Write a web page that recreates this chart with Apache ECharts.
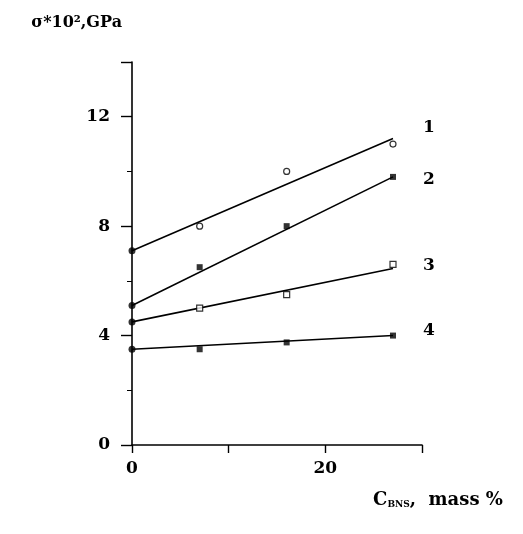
<!DOCTYPE html>
<html>
<head>
<meta charset="utf-8">
<script src="https://cdn.jsdelivr.net/npm/echarts@6/dist/echarts.min.js"></script>
<style>
  html, body { margin: 0; padding: 0; background: #fff; }
  #chart { width: 523px; height: 534px; }
</style>
</head>
<body>
<div id="chart"></div>
<script>
// measured points, x = C_BNS (mass %)
const xValues = [0, 7, 16, 27]
const s1 = [7.1, 8.0, 10.0, 11.0]
const s2 = [5.1, 6.5, 8.0, 9.8]
const s3 = [4.5, 5.0, 5.5, 6.6]
const s4 = [3.5, 3.5, 3.75, 4.0]
// fitted straight lines (start / end)
const fitX = [0, 27]
const fit1 = [7.1, 11.2]
const fit2 = [5.1, 9.8]
const fit3 = [4.5, 6.45]
const fit4 = [3.5, 4.0]
const curveNames = ['1', '2', '3', '4']
const xLabels = ['0', '20']
const yLabels = ['0', '4', '8', '12']

const font = 'DejaVu Serif'
const chart = echarts.init(document.getElementById('chart'))

function pts(ys, hollow) {
  return xValues.map((x, i) => {
    const p = { value: [x, ys[i]] }
    // points on the axis are drawn as solid dots
    if (i === 0) {
      p.symbol = 'circle'
      p.symbolSize = 7
      p.itemStyle = { color: '#000' }
    } else if (hollow) {
      p.itemStyle = { color: '#fff', borderColor: '#000', borderWidth: 1.2 }
    }
    return p
  })
}

function fit(ys, name, offset) {
  return {
    type: 'line',
    data: fitX.map((x, i) => [x, ys[i]]),
    symbol: 'none',
    silent: true,
    lineStyle: { color: '#000', width: 1.6 },
    endLabel: {
      show: true,
      formatter: name,
      offset: offset,
      color: '#000',
      fontFamily: font,
      fontWeight: 'bold',
      fontSize: 17
    },
    z: 1
  }
}

function scatter(ys, symbol, hollow) {
  return {
    type: 'scatter',
    data: pts(ys, hollow),
    symbol: symbol,
    symbolSize: 6,
    itemStyle: { color: '#000' },
    z: 3
  }
}

chart.setOption({
  animation: false,
  grid: { left: 132, right: 101, top: 62, bottom: 89 },
  xAxis: {
    type: 'value',
    min: 0,
    max: 30,
    interval: 10,
    name: '{b|C}{s|BNS}{b|,  mass %}',
    nameLocation: 'end',
    nameGap: 16,
    nameTextStyle: {
      align: 'center',
      verticalAlign: 'top',
      padding: [46, 0, 0, 0],
      rich: {
        b: { fontFamily: font, fontWeight: 'bold', fontSize: 18, color: '#000' },
        s: { fontFamily: font, fontWeight: 'bold', fontSize: 9, color: '#000', verticalAlign: 'bottom', padding: [7, 0, 0, 0] }
      }
    },
    axisLine: { lineStyle: { color: '#000', width: 1.6 } },
    axisTick: { inside: false, length: 8, lineStyle: { color: '#000', width: 1.4 } },
    axisLabel: {
      color: '#000',
      fontFamily: font,
      fontWeight: 'bold',
      fontSize: 17,
      margin: 15,
      formatter: v => (xLabels.includes(String(v)) ? String(v) : '')
    },
    splitLine: { show: false }
  },
  yAxis: {
    type: 'value',
    min: 0,
    max: 14,
    interval: 4,
    name: 'σ*10²,GPa',
    nameLocation: 'end',
    nameGap: 31,
    nameTextStyle: {
      align: 'right',
      padding: [0, 10, 0, 0],
      color: '#000',
      fontFamily: font,
      fontWeight: 'bold',
      fontSize: 16
    },
    axisLine: { show: true, lineStyle: { color: '#000', width: 1.6 } },
    axisTick: { show: true, length: 11, lineStyle: { color: '#000', width: 1.4 } },
    minorTick: { show: true, splitNumber: 2, length: 5, lineStyle: { color: '#000', width: 1 } },
    axisLabel: {
      color: '#000',
      fontFamily: font,
      fontWeight: 'bold',
      fontSize: 17,
      margin: 22,
      formatter: v => (yLabels.includes(String(v)) ? String(v) : '')
    },
    splitLine: { show: false }
  },
  series: [
    fit(fit1, curveNames[0], [22, -11]),
    fit(fit2, curveNames[1], [22, 3]),
    fit(fit3, curveNames[2], [22, -3]),
    fit(fit4, curveNames[3], [22, -5]),
    scatter(s1, 'circle', true),
    scatter(s2, 'rect', false),
    scatter(s3, 'rect', true),
    scatter(s4, 'rect', false)
  ]
})
</script>
</body>
</html>
